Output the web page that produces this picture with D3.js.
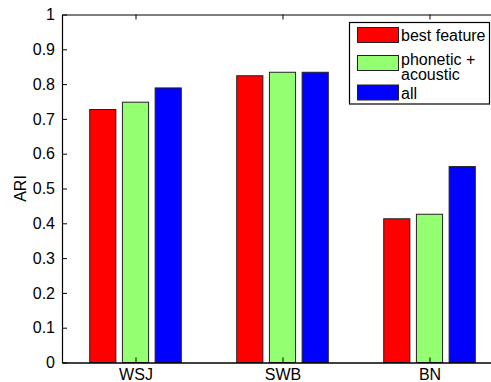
<!DOCTYPE html>
<html><head><meta charset="utf-8">
<script src="https://cdn.jsdelivr.net/npm/d3@7"></script>
<style>body{margin:0;background:#fff}svg{display:block}text{font-family:"Liberation Sans",Arial,sans-serif;fill:#000}</style>
</head><body><div id="chart"></div>
<script>
const categories = ["WSJ", "SWB", "BN"];
const seriesNames = ["best feature", "phonetic +\nacoustic", "all"];
const seriesColors = ["#ff0000", "#94ff70", "#0000ff"];
const bestFeature = [0.727, 0.824, 0.413];
const phoneticAcoustic = [0.748, 0.834, 0.426];
const allFeatures = [0.789, 0.834, 0.563];
const yTicks = [0, 0.1, 0.2, 0.3, 0.4, 0.5, 0.6, 0.7, 0.8, 0.9, 1];
const yTickLabels = ["0", "0.1", "0.2", "0.3", "0.4", "0.5", "0.6", "0.7", "0.8", "0.9", "1"];
const series = [bestFeature, phoneticAcoustic, allFeatures];

(function () {
const W = 491, H = 382;
const svg = d3.select("#chart").append("svg").attr("width", W).attr("height", H);
const pLeft = 62, pTop = 14.5, pBottom = 362.5, pRight = 503;
const x = d3.scaleLinear().domain([0.5, 3.5]).range([pLeft, pRight]);
const y = d3.scaleLinear().domain([0, 1]).range([pBottom, pTop]);

const offset = 0.2225, barW = 0.178;
series.forEach((vals, si) => {
  svg.append("g").selectAll("rect").data(vals).join("rect")
    .attr("x", (d, i) => x(i + 1 + (si - 1) * offset - barW / 2))
    .attr("width", x(barW) - x(0))
    .attr("y", d => y(d))
    .attr("height", d => y(0) - y(d))
    .attr("fill", seriesColors[si])
    .attr("stroke", "#222").attr("stroke-width", 1);
});

const fs = 16;
const yAxis = d3.axisLeft(y).tickValues(yTicks).tickFormat((d, i) => yTickLabels[i]).tickSizeInner(-5).tickSizeOuter(0).tickPadding(7);
const gy = svg.append("g").attr("transform", `translate(${pLeft},0)`).call(yAxis);
gy.selectAll("text").style("font-size", fs + "px").attr("fill", "#000");
gy.selectAll("line").attr("stroke", "#000");
gy.select(".domain").attr("stroke", "#000").attr("stroke-width", 1.2);

const xAxis = d3.axisBottom(x).tickValues([1, 2, 3]).tickFormat((d, i) => categories[i]).tickSizeInner(-5).tickSizeOuter(0).tickPadding(6);
const gx = svg.append("g").attr("transform", `translate(0,${pBottom})`).call(xAxis);
gx.selectAll("text").style("font-size", fs + "px").attr("fill", "#000");
gx.selectAll("line").attr("stroke", "#000");
gx.select(".domain").attr("stroke", "#000").attr("stroke-width", 1.6);

const xTop = d3.axisTop(x).tickValues([1, 2, 3]).tickFormat("").tickSizeInner(-5).tickSizeOuter(0);
const gt = svg.append("g").attr("transform", `translate(0,${pTop})`).call(xTop);
gt.selectAll("line").attr("stroke", "#000");
gt.select(".domain").attr("stroke", "#000").attr("stroke-width", 1.2);

svg.append("text").attr("transform", `translate(26,${(pTop + pBottom) / 2}) rotate(-90)`)
  .attr("text-anchor", "middle").style("font-size", fs + "px").text("ARI");

const lg = svg.append("g");
lg.append("rect").attr("x", 349.5).attr("y", 22.5).attr("width", 140).attr("height", 81.5)
  .attr("fill", "#fff").attr("stroke", "#000").attr("stroke-width", 1.2);
const swY = [27.5, 55.5, 85];
const swH = 15;
const textBase = [40.6, 65, 98.6];
seriesNames.forEach((name, i) => {
  lg.append("rect").attr("x", 357.5).attr("y", swY[i]).attr("width", 41).attr("height", swH)
    .attr("fill", seriesColors[i]).attr("stroke", "#222").attr("stroke-width", 1);
  const lines = name.split("\n");
  const t = lg.append("text").attr("y", textBase[i]).style("font-size", fs + "px");
  lines.forEach((ln, j) => {
    t.append("tspan").attr("x", 401).attr("dy", j === 0 ? 0 : 15).text(ln);
  });
});
})();
</script></body></html>
